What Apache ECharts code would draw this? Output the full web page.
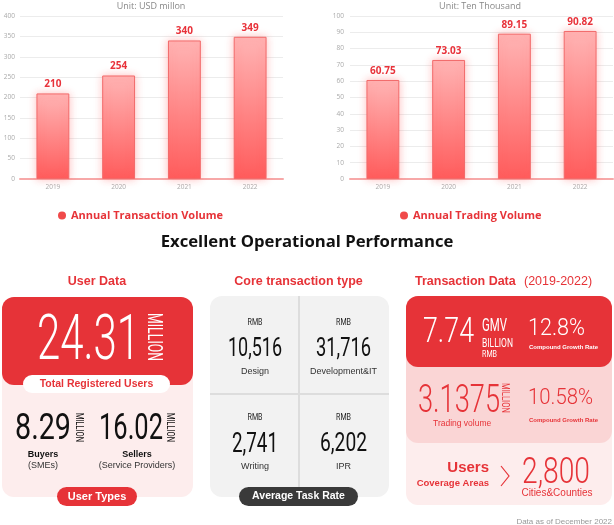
<!DOCTYPE html>
<html>
<head>
<meta charset="utf-8">
<script src="https://cdn.jsdelivr.net/npm/echarts@6/dist/echarts.min.js"></script>
<style>
  html, body { margin: 0; padding: 0; background: #fff; }
  #main { width: 614px; height: 525px; }
</style>
</head>
<body>
<div id="main"></div>
<script>
// chart data
const years = ['2019', '2020', '2021', '2022'];
const transactionVolume = [210, 254, 340, 349];
const tradingVolume = [60.75, 73.03, 89.15, 90.82];

// infographic figures
const totalUsers = '24.31';
const userTypeValues = ['8.29', '16.02'];
const userTypeNames = ['Buyers', 'Sellers'];
const userTypeNotes = ['(SMEs)', '(Service Providers)'];
const taskRateValues = ['10,516', '31,716', '2,741', '6,202'];
const taskRateNames = ['Design', 'Development&IT', 'Writing', 'IPR'];
const gmvValue = '7.74';
const gmvGrowth = '12.8%';
const tradeValue = '3.1375';
const tradeGrowth = '10.58%';
const coverageValue = '2,800';

const RED = '#e63338';
const NUM = 'Roboto';
const SANS = '"Liberation Sans", Arial, sans-serif';

// canvas used to size the condensed numbers
const ctx = document.createElement('canvas').getContext('2d');
ctx.textBaseline = 'middle';

function txt(text, x, y, o) {
  o = o || {};
  return {
    type: 'text', x: x, y: y, z: 10,
    rotation: o.rot || 0,
    scaleX: o.sx || 1,
    style: {
      text: text,
      fill: o.color || '#222',
      fontSize: o.size || 10,
      fontWeight: o.weight || 'normal',
      fontFamily: o.family || SANS,
      align: o.align || 'center',
      verticalAlign: 'middle'
    }
  };
}
// number squeezed into a box: glyph top/bottom (without comma tails) and width
function num(text, x, top, bottom, width, color, align, weight) {
  weight = weight || 'normal';
  let core = text.replace(/[.,]/g, '');
  ctx.font = weight + ' 100px ' + NUM;
  let m = ctx.measureText(core);
  let size = 100 * (bottom - top) / (m.actualBoundingBoxAscent + m.actualBoundingBoxDescent);
  ctx.font = weight + ' ' + size + 'px ' + NUM;
  m = ctx.measureText(core);
  let w = ctx.measureText(text).width;
  return txt(text, x, top + m.actualBoundingBoxAscent, { size: size, color: color, family: NUM, align: align || 'left', sx: width / w, weight: weight });
}
// vertical word reading top to bottom, centred on cx/cy
function vword(text, cx, cy, length, thick, color) {
  ctx.font = '100px ' + NUM;
  let m = ctx.measureText(text);
  let size = 100 * thick / (m.actualBoundingBoxAscent + m.actualBoundingBoxDescent);
  ctx.font = size + 'px ' + NUM;
  m = ctx.measureText(text);
  let off = (m.actualBoundingBoxAscent - m.actualBoundingBoxDescent) / 2;
  return txt(text, cx - off, cy, { size: size, color: color, family: NUM, sx: length / m.width, rot: -Math.PI / 2 });
}
function box(x, y, w, h, r, fill, z) {
  return { type: 'rect', z: z || 1, shape: { x: x, y: y, width: w, height: h, r: r }, style: { fill: fill } };
}

let chart = echarts.init(document.getElementById('main'));

let barStyle = {
  color: new echarts.graphic.LinearGradient(0, 0, 0, 1, [
    { offset: 0, color: '#ffb4b4' },
    { offset: 1, color: '#ff5c5c' }
  ]),
  borderColor: '#f26a6a',
  borderWidth: 1,
  shadowBlur: 8,
  shadowColor: 'rgba(255,80,80,0.35)'
};
let barLabel = { show: true, position: 'top', color: '#e8323a', fontWeight: 'bold', fontSize: 10, distance: 4, fontFamily: 'Open Sans' };
let axisLabel = { fontSize: 6.5, color: '#aaa', fontFamily: 'Open Sans' };

let g = [];
// headline
g.push(txt('Excellent Operational Performance', 307, 242, { size: 16.7, weight: 'bold', family: 'Open Sans', color: '#111' }));

// ---- user data panel
g.push(txt('User Data', 97, 282, { size: 12.5, weight: 'bold', color: RED }));
g.push(box(2, 297, 191, 200, 12, '#fdeded'));
g.push(box(2, 297, 191, 88, 12, RED, 2));
g.push(num(totalUsers, 37, 313, 360, 103, '#fff', 'left', 300));
g.push(vword('MILLION', 155, 337, 48, 15, '#fff'));
g.push(box(23, 375, 147, 18, 9, '#fff', 3));
g.push(txt('Total Registered Users', 96.5, 384, { size: 10.5, weight: 'bold', color: RED }));
let uX = [15, 99], uW = [56, 64], mX = [80, 171], nX = [43, 137];
userTypeValues.forEach(function (v, i) {
  g.push(num(v, uX[i], 413, 440, uW[i], '#111'));
  g.push(vword('MILLION', mX[i], 427.5, 29, 8, '#111'));
  g.push(txt(userTypeNames[i], nX[i], 455, { size: 9, weight: 'bold', color: '#111' }));
  g.push(txt(userTypeNotes[i], nX[i], 466, { size: 9, color: '#333' }));
});
g.push(box(57, 487, 80, 19, 9.5, RED, 3));
g.push(txt('User Types', 97, 496.5, { size: 11, weight: 'bold', color: '#fff' }));

// ---- core transaction type panel
g.push(txt('Core transaction type', 298.5, 282, { size: 12.5, weight: 'bold', color: RED }));
g.push(box(210, 296, 179, 201, 12, '#f2f2f2'));
g.push({ type: 'line', z: 2, shape: { x1: 299, y1: 296, x2: 299, y2: 497 }, style: { stroke: '#dddddd', lineWidth: 2 } });
g.push({ type: 'line', z: 2, shape: { x1: 210, y1: 394, x2: 389, y2: 394 }, style: { stroke: '#dddddd', lineWidth: 2 } });
let cX = [255, 343.5, 255, 343.5], cTop = [318, 318, 413, 413], cW = [54, 55, 46, 47];
taskRateValues.forEach(function (v, i) {
  g.push(num('RMB', cX[i], cTop[i], cTop[i] + 7, 15, '#222', 'center'));
  g.push(num(v, cX[i], cTop[i] + 19, cTop[i] + 38.5, cW[i], '#111', 'center'));
  g.push(txt(taskRateNames[i], cX[i], cTop[i] + 54, { size: 9, color: '#333' }));
});
g.push(box(239, 487, 119, 19, 9.5, '#3a3a3a', 3));
g.push(txt('Average Task Rate', 298.5, 496.5, { size: 10.5, weight: 'bold', color: '#fff' }));

// ---- transaction data panel
g.push(txt('Transaction Data', 415, 282, { size: 12.5, weight: 'bold', color: RED, align: 'left' }));
g.push(txt('(2019-2022)', 524, 282, { size: 12.5, color: RED, align: 'left' }));
g.push(box(406, 296, 206, 209, 12, '#fdeded'));
g.push(box(406, 296, 206, 147, 12, '#fad5d5', 2));
g.push(box(406, 296, 206, 71, 12, RED, 3));
g.push(num(gmvValue, 423, 317, 342, 51, '#fff', 'left', 300));
g.push(num('GMV', 482, 318, 332, 25, '#fff'));
g.push(num('BILLION', 482, 338, 347, 31, '#fff'));
g.push(num('RMB', 482, 350, 357, 15, '#fff'));
g.push(num(gmvGrowth, 528, 318, 336, 57, '#fff', 'left', 300));
g.push(txt('Compound Growth Rate', 529, 347, { size: 6, weight: 'bold', color: '#fff', align: 'left' }));
g.push(num(tradeValue, 418, 384, 413, 82, RED, 'left', 300));
g.push(vword('MILLION', 506, 398, 30, 8, RED));
g.push(txt('Trading volume', 433, 424, { size: 8.5, color: RED, align: 'left' }));
g.push(num(tradeGrowth, 528, 388, 404, 65, RED, 'left', 300));
g.push(txt('Compound Growth Rate', 529, 420, { size: 6, weight: 'bold', color: RED, align: 'left' }));
g.push(txt('Users', 489, 468, { size: 15, weight: 'bold', color: RED, align: 'right' }));
g.push(txt('Coverage Areas', 489, 483, { size: 9.5, weight: 'bold', color: RED, align: 'right' }));
g.push({ type: 'polyline', z: 10, shape: { points: [[501, 466], [509, 476], [501, 486]] }, style: { stroke: RED, lineWidth: 1.2, fill: null } });
g.push(num(coverageValue, 522, 457, 485, 68, RED, 'left', 300));
g.push(txt('Cities&Counties', 557, 493, { size: 10, color: RED }));
g.push(txt('Data as of December 2022', 612, 522, { size: 8, color: '#999', align: 'right' }));

chart.setOption({
  animation: false,
  title: [
    { text: 'Unit: USD millon', left: 146, top: -3, textAlign: 'center', textStyle: { fontSize: 9, color: '#888', fontWeight: 'normal', fontFamily: 'Open Sans' } },
    { text: 'Unit: Ten Thousand', left: 475, top: -3, textAlign: 'center', textStyle: { fontSize: 9, color: '#888', fontWeight: 'normal', fontFamily: 'Open Sans' } }
  ],
  legend: [
    {
      data: ['Annual Transaction Volume'], left: 53, top: 205, icon: 'circle', itemWidth: 8, itemHeight: 8, itemGap: 6,
      itemStyle: { color: '#f04a4a', borderWidth: 0, shadowBlur: 0 },
      textStyle: { color: RED, fontSize: 11, fontWeight: 'bold', fontFamily: 'Open Sans' }
    },
    {
      data: ['Annual Trading Volume'], left: 395, top: 205, icon: 'circle', itemWidth: 8, itemHeight: 8, itemGap: 6,
      itemStyle: { color: '#f04a4a', borderWidth: 0, shadowBlur: 0 },
      textStyle: { color: RED, fontSize: 11, fontWeight: 'bold', fontFamily: 'Open Sans' }
    }
  ],
  grid: [
    { left: 20, right: 331, top: 16, bottom: 346 },
    { left: 350, right: 1, top: 16, bottom: 346 }
  ],
  xAxis: [0, 1].map(function (i) {
    return {
      type: 'category', gridIndex: i, data: years,
      axisTick: { show: false },
      axisLine: { lineStyle: { color: '#f7a8a8', width: 2 } },
      axisLabel: Object.assign({ margin: 5 }, axisLabel)
    };
  }),
  yAxis: [
    { type: 'value', gridIndex: 0, min: 0, max: 400, interval: 50, axisLabel: Object.assign({ margin: 5 }, axisLabel), splitLine: { lineStyle: { color: '#ececec' } } },
    { type: 'value', gridIndex: 1, min: 0, max: 100, interval: 10, axisLabel: Object.assign({ margin: 6 }, axisLabel), splitLine: { lineStyle: { color: '#ececec' } } }
  ],
  series: [
    { name: 'Annual Transaction Volume', type: 'bar', xAxisIndex: 0, yAxisIndex: 0, barWidth: '50%', data: transactionVolume, itemStyle: barStyle, label: barLabel },
    { name: 'Annual Trading Volume', type: 'bar', xAxisIndex: 1, yAxisIndex: 1, barWidth: '50%', data: tradingVolume, itemStyle: barStyle, label: barLabel }
  ],
  graphic: { elements: g }
});
</script>
</body>
</html>
